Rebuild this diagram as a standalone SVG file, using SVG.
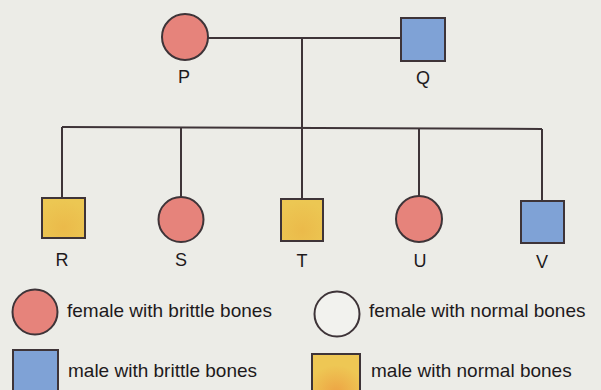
<svg xmlns="http://www.w3.org/2000/svg" width="601" height="390" viewBox="0 0 601 390">
<defs>
<radialGradient id="yel" cx="0.5" cy="0.75" r="0.7">
<stop offset="0" stop-color="#EBBA4A"/>
<stop offset="1" stop-color="#ECC753"/>
</radialGradient>
<radialGradient id="yel2" cx="0.5" cy="0.85" r="0.6">
<stop offset="0" stop-color="#EDA444"/>
<stop offset="1" stop-color="#EEC754"/>
</radialGradient>
<style>
.line{stroke:#3E3438;stroke-width:2;fill:none}
.f{fill:#E6837B;stroke:#3E3438;stroke-width:2}
.m{fill:#7FA2D6;stroke:#3E3438;stroke-width:2}
.n{fill:url(#yel);stroke:#3E3438;stroke-width:2}
.n2{fill:url(#yel2);stroke:#3E3438;stroke-width:2}
.w{fill:#F2F2EE;stroke:#3E3438;stroke-width:2}
.lab{font-family:"Liberation Sans",Arial,sans-serif;font-size:18px;fill:#1E1A1C;text-anchor:middle}
.leg{font-family:"Liberation Sans",Arial,sans-serif;font-size:19px;fill:#1E1A1C}
</style>
</defs>
<rect width="601" height="390" fill="#ECECE7"/>
<g id="connectors">
<path class="line" d="M208 38 H401"/>
<path class="line" d="M302 38 V128"/>
<path class="line" d="M62 127 L542 129"/>
<path class="line" d="M62 127 V198"/>
<path class="line" d="M181 128 V197"/>
<path class="line" d="M302 128 V199"/>
<path class="line" d="M419 128 V196"/>
<path class="line" d="M542 129 V201"/>
</g>
<g id="P"><circle class="f" cx="185" cy="37" r="23"/><text class="lab" x="184" y="83">P</text></g>
<g id="Q"><rect class="m" x="401" y="18" width="44" height="43"/><text class="lab" x="423" y="84">Q</text></g>
<g id="R"><rect class="n" x="42" y="198" width="43" height="40"/><text class="lab" x="62" y="266">R</text></g>
<g id="S"><circle class="f" cx="181" cy="219.5" r="22.5"/><text class="lab" x="181" y="266">S</text></g>
<g id="T"><rect class="n" x="281" y="199" width="42" height="42"/><text class="lab" x="302" y="267">T</text></g>
<g id="U"><circle class="f" cx="419" cy="219" r="23"/><text class="lab" x="420" y="267">U</text></g>
<g id="V"><rect class="m" x="521" y="201" width="43" height="42"/><text class="lab" x="542" y="268">V</text></g>
<g id="legend-female-brittle"><circle class="f" cx="35" cy="312" r="22.5"/><text class="leg" x="67" y="317">female with brittle bones</text></g>
<g id="legend-female-normal"><circle class="w" cx="337" cy="314" r="22.5"/><text class="leg" x="369" y="317">female with normal bones</text></g>
<g id="legend-male-brittle"><rect class="m" x="13" y="350" width="45" height="45"/><text class="leg" x="68" y="377">male with brittle bones</text></g>
<g id="legend-male-normal"><rect class="n2" x="312" y="354" width="48" height="45"/><text class="leg" x="371" y="377">male with normal bones</text></g>
</svg>
